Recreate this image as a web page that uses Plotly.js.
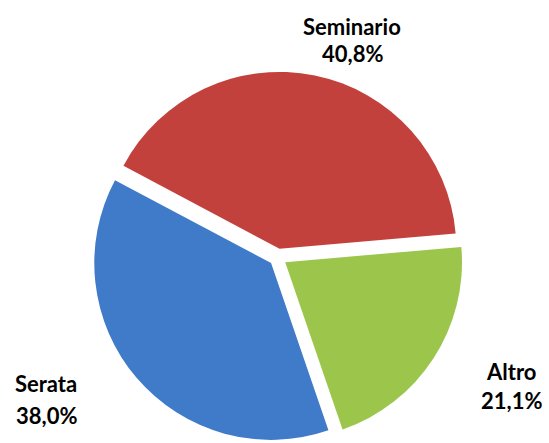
<!DOCTYPE html>
<html>
<head>
<meta charset="utf-8">
<script src="https://cdn.plot.ly/plotly-3.0.1.min.js"></script>
<style>html,body{margin:0;padding:0;background:#fff;}#chart{width:549px;height:443px;}</style>
</head>
<body>
<div id="chart"></div>
<script>
const labels = ["Seminario", "Altro", "Serata"];
const values = [40.8, 21.1, 38.0];
const colors = ["#c3413d", "#9cc64b", "#3f7bc8"];

// label placement (paper coords) for name and percentage lines
const namePos = [[352/549, 1 - 26/443], [511/549, 1 - 371/443], [46/549, 1 - 383/443]];
const pctPos  = [[352/549, 1 - 53/443], [511/549, 1 - 400/443], [46/549, 1 - 415/443]];

function fmt(v) { return v.toFixed(1).replace('.', ',') + '%'; }

const annotations = [];
labels.forEach((l, i) => {
  annotations.push({text: '<b>' + l + '</b>', x: namePos[i][0], y: namePos[i][1], xref: 'paper', yref: 'paper',
    showarrow: false, xanchor: 'center', yanchor: 'middle', font: {family: 'Lato, sans-serif', size: 22, color: '#000'}});
  annotations.push({text: '<b>' + fmt(values[i]) + '</b>', x: pctPos[i][0], y: pctPos[i][1], xref: 'paper', yref: 'paper',
    showarrow: false, xanchor: 'center', yanchor: 'middle', font: {family: 'Lato, sans-serif', size: 22, color: '#000'}});
});

const trace = {
  type: 'pie',
  labels: labels,
  values: values,
  sort: false,
  direction: 'clockwise',
  rotation: -62,
  pull: [0.05, 0.05, 0.05],
  textinfo: 'none',
  hoverinfo: 'label+percent',
  marker: {colors: colors, line: {color: '#ffffff', width: 0}},
  domain: {x: [0.163, 0.849], y: [0, 0.838]}
};

const layout = {
  width: 549, height: 443,
  margin: {l: 0, r: 0, t: 0, b: 0},
  paper_bgcolor: '#ffffff',
  showlegend: false,
  annotations: annotations
};

Plotly.newPlot('chart', [trace], layout, {displayModeBar: false, staticPlot: true});
</script>
</body>
</html>
